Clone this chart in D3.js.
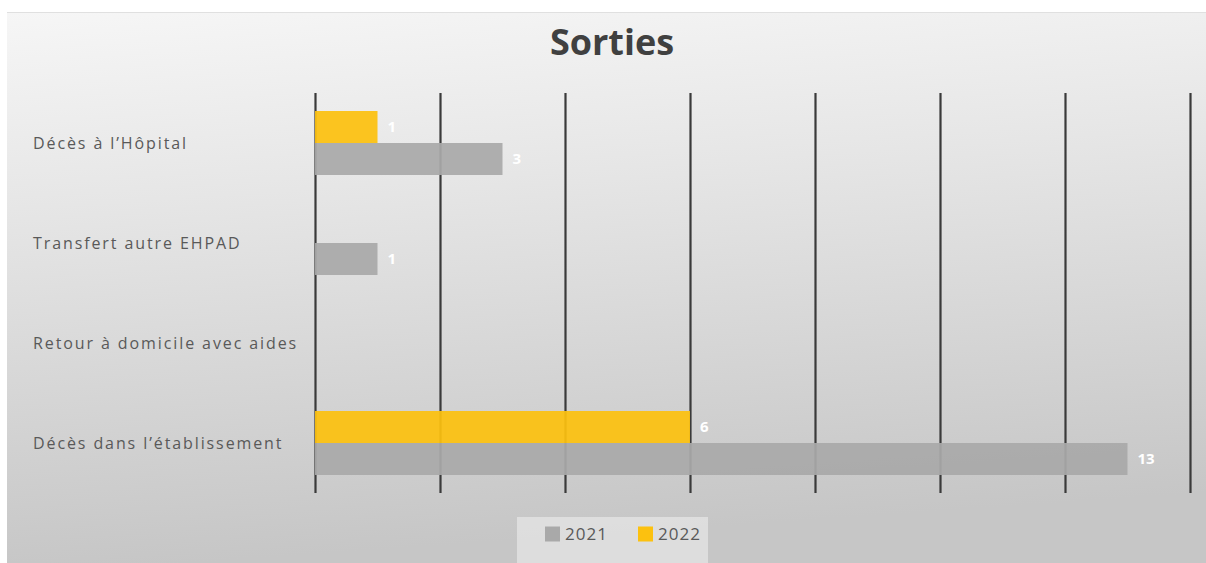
<!DOCTYPE html>
<html><head><meta charset="utf-8">
<script src="https://cdn.jsdelivr.net/npm/d3@7"></script>
<style>html,body{margin:0;padding:0;background:#fff;}svg{display:block;}</style>
</head><body>
<script>
const categories = ["Décès à l’Hôpital", "Transfert autre EHPAD", "Retour à domicile avec aides", "Décès dans l’établissement"];
const seriesNames = ["2022", "2021"];
const values2021 = [3, 1, 0, 13];
const values2022 = [1, 0, 0, 6];
const xTicks = [0, 2, 4, 6, 8, 10, 12, 14];
const legendOrder = ["2021", "2022"];

const W = 1206, H = 563;
const colors = {"2021": "#a9a9a9", "2022": "#fcc10f"};
const svg = d3.select("body").append("svg").attr("width", W).attr("height", H);
const defs = svg.append("defs");
const g1 = defs.append("linearGradient").attr("id","bg").attr("x1","0").attr("y1","0").attr("x2","0.15").attr("y2","1");
g1.append("stop").attr("offset","0").attr("stop-color","#f6f6f6");
g1.append("stop").attr("offset","0.35").attr("stop-color","#e6e6e6");
g1.append("stop").attr("offset","1").attr("stop-color","#c6c6c6");
svg.append("rect").attr("x",7).attr("y",12).attr("width",W-7).attr("height",H-12).attr("fill","url(#bg)");
svg.append("line").attr("x1",7).attr("x2",W).attr("y1",12.5).attr("y2",12.5).attr("stroke","#e0e0e0");

const x = d3.scaleLinear().domain([0,14]).range([315,1190]);
const y = d3.scaleBand().domain(categories).range([93,493]).paddingInner(0.36).paddingOuter(0.18);
const ySub = d3.scaleBand().domain(seriesNames).range([0,y.bandwidth()]);

// gridlines
const ax = d3.axisBottom(x).tickValues(xTicks).tickSize(-(400)).tickFormat("");
const gAx = svg.append("g").attr("transform","translate(0,493)").call(ax);
gAx.select(".domain").remove();
gAx.selectAll(".tick line").attr("stroke","#3a3a3a").attr("stroke-width",2.2);

// bars
const data = categories.map((c,i)=>({cat:c, vals:[{s:"2022",v:values2022[i]},{s:"2021",v:values2021[i]}]}));
const grp = svg.append("g").selectAll("g").data(data).join("g")
  .attr("transform", d=>`translate(0,${y(d.cat)})`);
grp.selectAll("rect").data(d=>d.vals).join("rect")
  .attr("x", x(0)).attr("y", d=>ySub(d.s))
  .attr("width", d=>x(d.v)-x(0)).attr("height", ySub.bandwidth())
  .attr("fill", d=>colors[d.s]).attr("fill-opacity",0.93);
grp.selectAll("text").data(d=>d.vals.filter(v=>v.v>0)).join("text")
  .attr("x", d=>x(d.v)+10).attr("y", d=>ySub(d.s)+ySub.bandwidth()/2)
  .attr("dy","0.36em").attr("fill","#ffffff").attr("font-family","'Open Sans', sans-serif")
  .attr("font-weight","bold").attr("font-size",15).text(d=>d.v);

// category labels
svg.append("g").selectAll("text").data(categories).join("text")
  .attr("x",33).attr("y",d=>y(d)+y.bandwidth()/2).attr("dy","0.36em")
  .attr("fill","#595959").attr("font-family","'Open Sans', sans-serif").attr("font-size",16)
  .attr("letter-spacing","1.9px")
  .text(d=>d);

// title
svg.append("text").attr("x",612).attr("y",42).attr("dy","0.36em").attr("text-anchor","middle")
  .attr("fill","#404040").attr("font-family","'Open Sans', sans-serif").attr("font-weight","bold")
  .attr("font-size",36).text("Sorties");

// legend
svg.append("rect").attr("x",517).attr("y",517).attr("width",191).attr("height",46).attr("fill","#ececec").attr("fill-opacity",0.6);
const lg = svg.append("g").selectAll("g").data(legendOrder).join("g")
  .attr("transform",(d,i)=>`translate(${545+i*93},534)`);
lg.append("rect").attr("x",0).attr("y",-7.5).attr("width",15).attr("height",15).attr("fill",d=>colors[d]);
lg.append("text").attr("x",20).attr("y",0).attr("dy","0.36em").attr("fill","#595959")
  .attr("font-family","'Open Sans', sans-serif").attr("font-size",17).attr("letter-spacing","1px").text(d=>d);
</script>
</body></html>
